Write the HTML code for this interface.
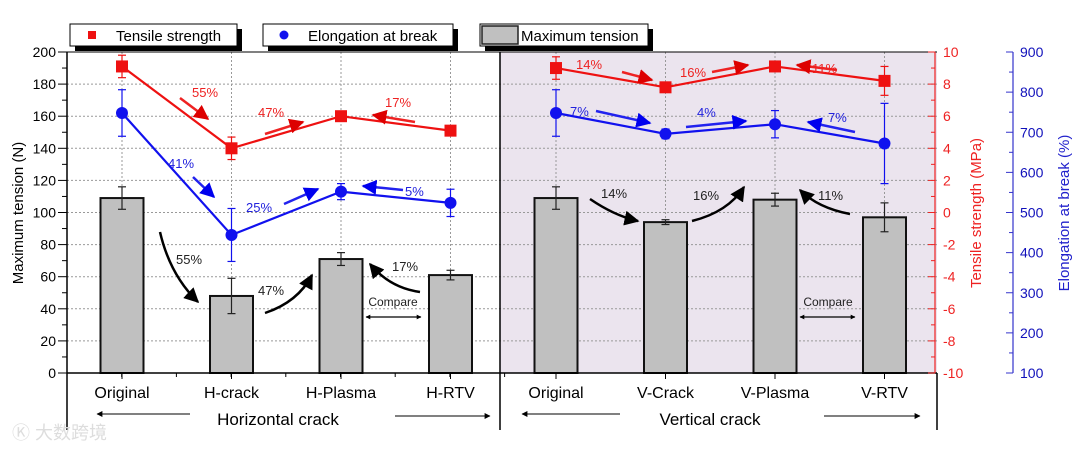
<!DOCTYPE html>
<html><head><meta charset="utf-8"><style>
body{margin:0;background:#fff;}
svg{display:block;font-family:"Liberation Sans",Arial,sans-serif;}
</style></head><body>
<svg id="c" width="1080" height="451" viewBox="0 0 1080 451">
<defs>
<marker id="ar" viewBox="0 0 10 10" refX="9" refY="5" markerWidth="6" markerHeight="6" orient="auto"><path d="M0,0L10,5L0,10z" fill="#d00"/></marker>
<marker id="ab" viewBox="0 0 10 10" refX="9" refY="5" markerWidth="6" markerHeight="6" orient="auto"><path d="M0,0L10,5L0,10z" fill="#00e"/></marker>
<marker id="ak" viewBox="0 0 10 10" refX="9" refY="5" markerWidth="6" markerHeight="6" orient="auto"><path d="M0,0L10,5L0,10z" fill="#000"/></marker>
<marker id="ak2" viewBox="0 0 10 10" refX="9" refY="5" markerWidth="4" markerHeight="4" orient="auto-start-reverse"><path d="M0,0L10,5L0,10z" fill="#000"/></marker>
</defs>
<rect x="500" y="52" width="437" height="321" fill="#ebe4ee"/>
<g id="grid"></g>
<g id="bars"></g>
<g id="lines"></g>
<g id="axes"></g>
<g id="ann"></g>
</svg>
<script>
const categories=["Original","H-crack","H-Plasma","H-RTV","Original","V-Crack","V-Plasma","V-RTV"];
const tensionValues=[109,48,71,61,109,94,108,97];
const tensionErr=[7,11,4,3,7,1.5,4,9];
const strengthValues=[9.1,4.0,6.0,5.1,9.0,7.8,9.1,8.2];
const strengthErr=[0.7,0.7,0.2,0.2,0.7,0.1,0.2,0.9];
const elongValues=[748,444,552,524,748,696,720,672];
const elongErr=[58,66,20,34,58,12,34,100];
const leftTicks=[0,20,40,60,80,100,120,140,160,180,200];
const redTicks=[-10,-8,-6,-4,-2,0,2,4,6,8,10];
const blueTicks=[100,200,300,400,500,600,700,800,900];

const NS="http://www.w3.org/2000/svg";
const Y0=373,Y1=52;
const yL=v=>Y0-(v/200)*(Y0-Y1);
const yR=v=>Y0-((v+10)/20)*(Y0-Y1);
const yB=v=>Y0-((v-100)/800)*(Y0-Y1);
const xC=i=>(i<4?122:556)+(i%4)*109.5;
function mk(p,t,a,txt){const e=document.createElementNS(NS,t);for(const k in a)e.setAttribute(k,a[k]);if(txt!==undefined)e.textContent=txt;p.appendChild(e);return e;}
const G=id=>document.getElementById(id);
const grid=G('grid'),bars=G('bars'),lines=G('lines'),axes=G('axes'),ann=G('ann');

leftTicks.forEach(v=>{if(v>0&&v<200){const l=mk(grid,'line',{x1:67,x2:937,y1:yL(v),y2:yL(v),stroke:'#999','stroke-dasharray':'2,2','stroke-width':1});}});
categories.forEach((c,i)=>{const l=mk(grid,'line',{x1:xC(i),x2:xC(i),y1:Y1,y2:Y0,stroke:'#999','stroke-dasharray':'2,2'});});

function eb(p,x,yv,ye,col,w){const g=mk(p,'g',{stroke:col,'stroke-width':1.2});mk(g,'line',{x1:x,x2:x,y1:ye[0],y2:ye[1]});mk(g,'line',{x1:x-w,x2:x+w,y1:ye[0],y2:ye[0]});mk(g,'line',{x1:x-w,x2:x+w,y1:ye[1],y2:ye[1]});return g;}

tensionValues.forEach((v,i)=>{const x=xC(i);const r=mk(bars,'rect',{x:x-21.5,y:yL(v),width:43,height:Y0-yL(v),fill:'#c0c0c0',stroke:'#111','stroke-width':2});


const e=eb(bars,x,0,[yL(v+tensionErr[i]),yL(v-tensionErr[i])],'#222',4);

});

function series(vals,err,ys,col,shape,name){
 [[0,4],[4,8]].forEach(([a,b])=>{let d='';for(let i=a;i<b;i++)d+=(i==a?'M':'L')+xC(i)+','+ys(vals[i]);const p=mk(lines,'path',{d,fill:'none',stroke:col,'stroke-width':2.2});});
 vals.forEach((v,i)=>{const x=xC(i),y=ys(v);const e=eb(lines,x,y,[ys(v+err[i]),ys(v-err[i])],col,4);
  let m;if(shape=='sq')m=mk(lines,'rect',{x:x-6,y:y-6,width:12,height:12,fill:col});else m=mk(lines,'circle',{cx:x,cy:y,r:6,fill:col});
  });
}
series(strengthValues,strengthErr,yR,'#ee1111','sq','tensile-strength');
series(elongValues,elongErr,yB,'#1111ee','ci','elongation');

const ax=mk(axes,'g',{stroke:'#000','stroke-width':1.5});
mk(ax,'line',{x1:67,x2:67,y1:Y1,y2:430});
mk(ax,'line',{x1:67,x2:937,y1:Y1,y2:Y1,'stroke-width':1});
mk(ax,'line',{x1:67,x2:937,y1:Y0,y2:Y0});
mk(ax,'line',{x1:500,x2:500,y1:Y1,y2:430});
mk(axes,'line',{x1:937,x2:937,y1:Y0,y2:430,stroke:'#000','stroke-width':1.5});
for(let v=0;v<=200;v+=10){mk(axes,'line',{x1:v%20?62:58,x2:67,y1:yL(v),y2:yL(v),stroke:'#000'});}
leftTicks.forEach(v=>{const t=mk(axes,'text',{x:56,y:yL(v)+5,'text-anchor':'end','font-size':14},v);});
for(let i=0;i<9;i++){const x=67+i*54.7;mk(axes,'line',{x1:x,x2:x,y1:Y0,y2:Y0+4,stroke:'#000'});}
for(let i=0;i<8;i++)mk(axes,'line',{x1:xC(i),x2:xC(i),y1:Y0,y2:Y0+6,stroke:'#000'});
mk(axes,'line',{x1:935,x2:935,y1:Y1,y2:Y0,stroke:'#e22','stroke-width':1.2});
for(let v=-10;v<=10;v++){mk(axes,'line',{x1:v%2?931:928,x2:935,y1:yR(v),y2:yR(v),stroke:'#e22'});}
redTicks.forEach(v=>{const t=mk(axes,'text',{x:943,y:yR(v)+5,'font-size':14,fill:'#e22'},v);});
mk(axes,'line',{x1:1013,x2:1013,y1:Y1,y2:Y0,stroke:'#33c','stroke-width':1.2});
for(let v=100;v<=900;v+=50){mk(axes,'line',{x1:v%100?1009:1006,x2:1013,y1:yB(v),y2:yB(v),stroke:'#33c'});}
blueTicks.forEach(v=>{const t=mk(axes,'text',{x:1020,y:yB(v)+5,'font-size':14,fill:'#11b'},v);});
categories.forEach((c,i)=>{const t=mk(axes,'text',{x:xC(i),y:398,'text-anchor':'middle','font-size':16},c);});
</script>
<script>
(function(){
const ann=document.getElementById('ann');
ann.innerHTML=`
<text transform="translate(23,213) rotate(-90)" text-anchor="middle" font-size="15">Maximum tension (N)</text>
<text transform="translate(981,213) rotate(-90)" text-anchor="middle" font-size="15" fill="#e22">Tensile strength (MPa)</text>
<text transform="translate(1069,213) rotate(-90)" text-anchor="middle" font-size="15" fill="#22c">Elongation at break (%)</text>
<g><text x="278" y="425" text-anchor="middle" font-size="17">Horizontal crack</text>
<line x1="190" y1="414" x2="97" y2="414" stroke="#000" marker-end="url(#ak)"/><line x1="395" y1="416" x2="490" y2="416" stroke="#000" marker-end="url(#ak)"/></g>
<g><text x="710" y="425" text-anchor="middle" font-size="17">Vertical crack</text>
<line x1="620" y1="414" x2="522" y2="414" stroke="#000" marker-end="url(#ak)"/><line x1="824" y1="416" x2="920" y2="416" stroke="#000" marker-end="url(#ak)"/></g>
<g>
<rect x="75" y="29" width="167" height="22" fill="#000"/><rect x="70" y="24" width="167" height="22" fill="#fff" stroke="#000"/><rect x="88" y="31" width="8" height="8" fill="#e11"/><text x="116" y="41" font-size="15">Tensile strength</text>
<rect x="268" y="29" width="190" height="22" fill="#000"/><rect x="263" y="24" width="190" height="22" fill="#fff" stroke="#000"/><circle cx="284" cy="35" r="4.5" fill="#11e"/><text x="308" y="41" font-size="15">Elongation at break</text>
<rect x="485" y="29" width="168" height="22" fill="#000"/><rect x="480" y="24" width="168" height="22" fill="#fff" stroke="#000"/><rect x="482" y="26" width="36" height="18" fill="#c0c0c0" stroke="#222" stroke-width="1.5"/><text x="521" y="41" font-size="15">Maximum tension</text>
</g>
<g font-size="13" fill="#e22">
<text x="192" y="97">55%</text><text x="258" y="117">47%</text><text x="385" y="107">17%</text>
<text x="576" y="69">14%</text><text x="680" y="77">16%</text><text x="812" y="73">11%</text></g>
<g stroke="#e22" stroke-width="2.5" fill="none">
<line x1="180" y1="98" x2="208" y2="119" marker-end="url(#ar)"/><line x1="265" y1="134" x2="303" y2="122" marker-end="url(#ar)"/><line x1="415" y1="122" x2="373" y2="115" marker-end="url(#ar)"/>
<line x1="622" y1="72" x2="652" y2="80" marker-end="url(#ar)"/><line x1="712" y1="72" x2="748" y2="65" marker-end="url(#ar)"/><line x1="837" y1="70" x2="797" y2="65" marker-end="url(#ar)"/></g>
<g font-size="13" fill="#22d">
<text x="168" y="168">41%</text><text x="246" y="212">25%</text><text x="405" y="196">5%</text>
<text x="570" y="116">7%</text><text x="697" y="117">4%</text><text x="828" y="122">7%</text></g>
<g stroke="#22e" stroke-width="2.5" fill="none">
<line x1="193" y1="177" x2="214" y2="197" marker-end="url(#ab)"/><line x1="284" y1="204" x2="318" y2="189" marker-end="url(#ab)"/><line x1="403" y1="190" x2="363" y2="186" marker-end="url(#ab)"/>
<line x1="596" y1="111" x2="650" y2="123" marker-end="url(#ab)"/><line x1="686" y1="127" x2="746" y2="121" marker-end="url(#ab)"/><line x1="855" y1="132" x2="808" y2="122" marker-end="url(#ab)"/></g>
<g font-size="13" fill="#222">
<text x="176" y="264">55%</text><text x="258" y="295">47%</text><text x="392" y="271">17%</text>
<text x="601" y="198">14%</text><text x="693" y="200">16%</text><text x="818" y="200">11%</text></g>
<g stroke="#000" stroke-width="2.5" fill="none">
<path d="M160,232 Q170,275 198,302" marker-end="url(#ak)"/><path d="M265,313 Q298,302 312,275" marker-end="url(#ak)"/><path d="M420,292 Q390,288 370,264" marker-end="url(#ak)"/>
<path d="M590,199 Q615,216 638,221" marker-end="url(#ak)"/><path d="M692,221 Q728,212 744,187" marker-end="url(#ak)"/><path d="M850,214 Q818,208 800,190" marker-end="url(#ak)"/></g>
<g><text x="393" y="306" font-size="12" fill="#222" text-anchor="middle">Compare</text><line x1="366" y1="317" x2="421" y2="317" stroke="#000" stroke-width="1.2" marker-start="url(#ak2)" marker-end="url(#ak2)"/>
<text x="828" y="306" font-size="12" fill="#222" text-anchor="middle">Compare</text><line x1="800" y1="317" x2="855" y2="317" stroke="#000" stroke-width="1.2" marker-start="url(#ak2)" marker-end="url(#ak2)"/></g>
<text x="12" y="439" font-size="18" fill="#ddd" font-family="Liberation Sans, Noto Sans CJK SC, sans-serif">Ⓚ 大数跨境</text>`;
})();
</script>
</body></html>
